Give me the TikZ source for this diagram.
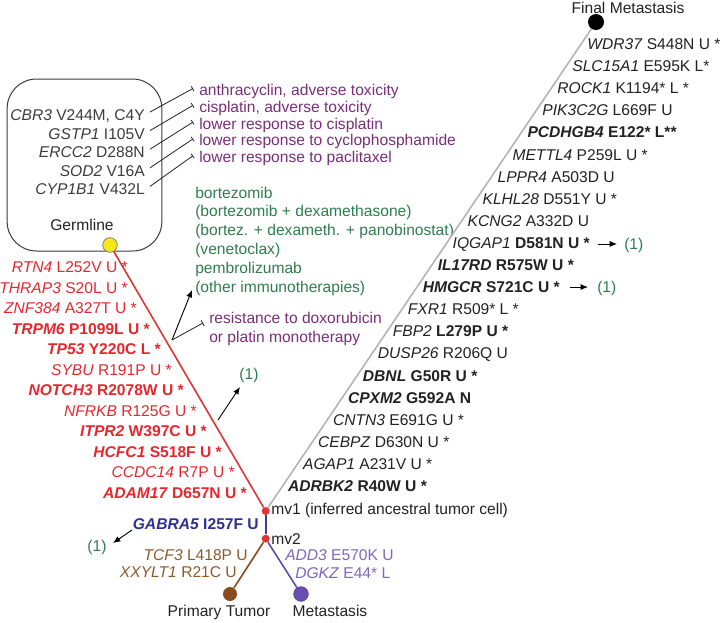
\documentclass[tikz,border=0pt]{standalone}
\usepackage{fontspec}
\setmainfont{Liberation Sans}
\usetikzlibrary{arrows.meta,calc}
\definecolor{tred}{HTML}{E8262D}
\definecolor{lred}{HTML}{E03535}
\definecolor{tdark}{HTML}{222222}
\definecolor{boxt}{HTML}{3C3C3C}
\definecolor{tpurp}{HTML}{7A2E7A}
\definecolor{tgreen}{HTML}{2F7D4F}
\definecolor{gline}{HTML}{B4B4B4}
\definecolor{gblue}{HTML}{2E3192}
\definecolor{lblue}{HTML}{3C3C9A}
\definecolor{brownl}{HTML}{8B4A1E}
\definecolor{brownt}{HTML}{8B5A2B}
\definecolor{lavt}{HTML}{7B68C0}
\definecolor{lavl}{HTML}{5E4FA8}
\definecolor{metc}{HTML}{6A50B0}
\definecolor{yel}{HTML}{F5E61A}
\begin{document}
\begin{tikzpicture}[x=0.75pt,y=-0.75pt,
  txt/.style={inner sep=0pt,font=\fontsize{11.7}{14}\selectfont},
  rt/.style={txt,text=tred,anchor=base east},
  gl/.style={txt,text=tdark,anchor=base west},
  bt/.style={txt,text=boxt,anchor=base east},
  pl/.style={txt,text=tpurp,anchor=base west},
  gt/.style={txt,text=tgreen,anchor=base west},
  gtc/.style={txt,text=tgreen,anchor=center},
  dot/.style={circle,inner sep=0pt},
  teec/.style={draw=tdark,line width=0.6pt,-{Bar[width=4pt,line width=0.6pt]}},
  arr/.style={draw=black,line width=0.7pt,-{Latex[length=5.5pt,width=4.5pt]}},
  branch/.style={line width=1.2pt}]
\useasboundingbox (0,0) rectangle (724,622);

% germline box
\node[draw=boxt,line width=0.75pt,rounded corners=22pt,minimum width=116pt,minimum height=129pt] (gbox) at (84.5,165) {};
\foreach \i/\t in {0/{\textit{CBR3} V244M, C4Y},1/{\textit{GSTP1} I105V},2/{\textit{ERCC2} D288N},3/{\textit{SOD2} V16A},4/{\textit{CYP1B1} V432L}}
  \node[bt] (b\i) at (145,{120.5+18.6*\i}) {\t};
\node[txt,text=tdark,anchor=base] (germl) at (82,230.5) {Germline};

% purple drug labels
\foreach \i/\t in {0/{anthracyclin, adverse toxicity},1/{cisplatin, adverse toxicity},2/{lower response to cisplatin},3/{lower response to cyclophosphamide},4/{lower response to paclitaxel}}
  \node[pl] (p\i) at (199,{95.5+16.8*\i}) {\t};
\foreach \i in {0,...,4}
  \draw[teec] ([shift={(5,-8.5)}]b\i.base east) -- ([shift={(-6,-7)}]p\i.base west);

% green labels
\foreach \i/\t in {0/{bortezomib},1/{(bortezomib + dexamethasone)},2/{(bortez. + dexameth. + panobinostat)},3/{(venetoclax)},4/{pembrolizumab},5/{(other immunotherapies)}}
  \node[gt] (gr\i) at (195,{198+18.9*\i}) {\t};
\node[pl] (res0) at (209,323.5) {resistance to doxorubicin};
\node[pl] (res1) at (209,342.5) {or platin monotherapy};

% dots
\node[dot,fill=black,minimum size=12pt] (fm) at (596,22) {};
\node[dot,fill=yel,draw=black!55,line width=0.5pt,minimum size=11pt] (germ) at (110,245) {};
\node[dot,fill=lred,minimum size=6pt] (mv1) at (265.7,511) {};
\node[dot,fill=lred,minimum size=6pt] (mv2) at (265.7,538.7) {};
\node[dot,fill=brownl,minimum size=10.5pt] (pt) at (230,594) {};
\node[dot,fill=metc,draw=metc!70!black,line width=0.4pt,minimum size=11pt] (met) at (301,594) {};

% branches
\draw[branch,draw=gline] (fm) -- (mv1);
\draw[branch,draw=lred] (germ) -- (mv1);
\draw[branch,draw=lblue] (mv1) -- (mv2);
\draw[branch,draw=brownl] (mv2) -- (pt);
\draw[branch,draw=lavl] (mv2) -- (met);

% red list
\foreach \i/\x/\t in {
  0/128/{\textit{RTN4} L252V U *},
  1/128/{\textit{THRAP3} S20L U *},
  2/137/{\textit{ZNF384} A327T U *},
  3/150/{\textbf{\textit{TRPM6} P1099L U *}},
  4/161/{\textbf{\textit{TP53} Y220C L *}},
  5/172/{\textit{SYBU} R191P U *},
  6/184/{\textbf{\textit{NOTCH3} R2078W U *}},
  7/197/{\textit{NFRKB} R125G U *},
  8/207/{\textbf{\textit{ITPR2} W397C U *}},
  9/222/{\textbf{\textit{HCFC1} S518F U *}},
  10/235/{\textit{CCDC14} R7P U *},
  11/247/{\textbf{\textit{ADAM17} D657N U *}}}
  \node[rt] (r\i) at (\x,{272.5+20.5*\i}) {\t};

% gray list
\foreach \i/\t in {
  0/{\textit{WDR37} S448N U *},
  1/{\textit{SLC15A1} E595K L*},
  2/{\textit{ROCK1} K1194* L *},
  3/{\textit{PIK3C2G} L669F U},
  4/{\textbf{\textit{PCDHGB4} E122* L**}},
  5/{\textit{METTL4} P259L U *},
  6/{\textit{LPPR4} A503D U},
  7/{\textit{KLHL28} D551Y U *},
  8/{\textit{KCNG2} A332D U},
  9/{\textit{IQGAP1} \textbf{D581N U *}},
  10/{\textbf{\textit{IL17RD} R575W U *}},
  11/{\textbf{\textit{HMGCR} S721C U *}},
  12/{\textit{FXR1} R509* L *},
  13/{\textit{FBP2} \textbf{L279P U *}},
  14/{\textit{DUSP26} R206Q U},
  15/{\textbf{\textit{DBNL} G50R U *}},
  16/{\textbf{\textit{CPXM2} G592A N}},
  17/{\textit{CNTN3} E691G U *},
  18/{\textit{CEBPZ} D630N U *},
  19/{\textit{AGAP1} A231V U *},
  20/{\textbf{\textit{ADRBK2} R40W U *}}}
  \node[gl] (g\i) at ({587.1-14.96*\i},{49.5+22.1*\i}) {\t};

% (1) references on the right
\node[gt] (o9) at (624,249.5) {(1)};
\node[gt] (o11) at (597,292.6) {(1)};
\draw[arr] ([shift={(-26,-1.5)}]o9.west) -- ([shift={(-7,-1.5)}]o9.west);
\draw[arr] ([shift={(-27,-1.5)}]o11.west) -- ([shift={(-9,-1.5)}]o11.west);

% arrows from red branch
\coordinate (fork) at (172,340);
\draw[arr] (fork) -- ([shift={(-3,-2.5)}]gr5.base west);
\draw[teec,-{Bar[width=5pt,line width=0.6pt]}] (fork) -- ([shift={(-6,-0.5)}]res0.base west);
\node[gtc] (or) at (249,375) {(1)};
\coordinate (rc) at (218,420);
\draw[arr] (rc) -- ([shift={(-9,12)}]or.center);

% mv labels
\node[gl] (mv1l) at (271,514.5) {mv1 (inferred ancestral tumor cell)};
\node[gl] (mv2l) at (271,544) {mv2};

% lower branch labels
\node[txt,text=gblue,anchor=base east] (gab) at (259,529.5) {\textbf{\textit{GABRA5} I257F U}};
\node[gtc] (og) at (97,547) {(1)};
\coordinate (gac) at (132,530);
\draw[arr] (gac) -- ([shift={(16,-4)}]og.center);
\node[txt,text=brownt,anchor=base east] (tcf) at (248,560.5) {\textit{TCF3} L418P U};
\node[txt,text=brownt,anchor=base east] (xxy) at (237,577.5) {\textit{XXYLT1} R21C U};
\node[txt,text=lavt,anchor=base west] (add) at (285,560.5) {\textit{ADD3} E570K U};
\node[txt,text=lavt,anchor=base west] (dgk) at (295,578.5) {\textit{DGKZ} E44* L};

% end labels
\node[txt,text=tdark,anchor=base] (ptl) at (219,616.5) {Primary Tumor};
\node[txt,text=tdark,anchor=base] (metl) at (330,616.5) {Metastasis};
\node[txt,text=tdark,anchor=base] (fml) at (628,13.5) {Final Metastasis};
\end{tikzpicture}
\end{document}
